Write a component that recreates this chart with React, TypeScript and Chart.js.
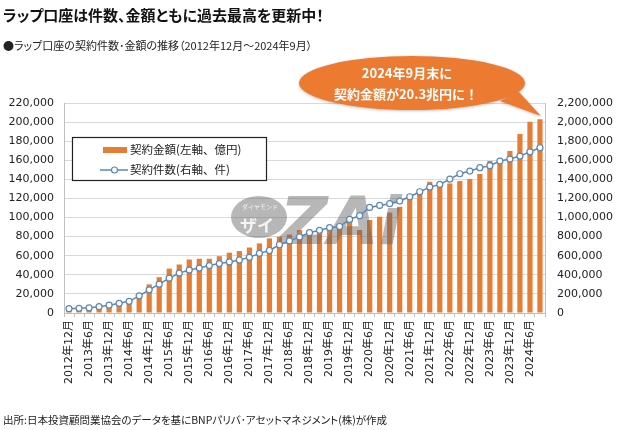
import { useEffect, useRef } from "react";
import { Chart, registerables } from "chart.js";

Chart.register(...registerables);

const categories = [
  "2012年12月",
  "2013年3月", "2013年6月", "2013年9月", "2013年12月",
  "2014年3月", "2014年6月", "2014年9月", "2014年12月",
  "2015年3月", "2015年6月", "2015年9月", "2015年12月",
  "2016年3月", "2016年6月", "2016年9月", "2016年12月",
  "2017年3月", "2017年6月", "2017年9月", "2017年12月",
  "2018年3月", "2018年6月", "2018年9月", "2018年12月",
  "2019年3月", "2019年6月", "2019年9月", "2019年12月",
  "2020年3月", "2020年6月", "2020年9月", "2020年12月",
  "2021年3月", "2021年6月", "2021年9月", "2021年12月",
  "2022年3月", "2022年6月", "2022年9月", "2022年12月",
  "2023年3月", "2023年6月", "2023年9月", "2023年12月",
  "2024年3月", "2024年6月", "2024年9月",
];

// 契約金額 (億円, 左軸)
const contractAmount = [
  2500,
  3000, 3300, 4500, 6500,
  9000, 13500, 19500, 30000,
  37500, 46500, 50800, 56000,
  56800, 56800, 59500, 63200,
  64900, 68600, 72900, 78200,
  79900, 82200, 86900, 85600,
  86500, 89700, 89400, 95600,
  86900, 97400, 100900, 105200,
  111300, 119000, 126000, 137500,
  132300, 135600, 138400, 140300,
  145500, 159200, 156500, 169600,
  187400, 200300, 203000,
];

// 契約件数 (件, 右軸)
const contractCount = [
  45000,
  49000, 54000, 66000, 82000,
  101000, 122000, 180000, 243000,
  302000, 365000, 418000, 450000,
  471000, 497000, 518000, 535000,
  555000, 583000, 625000, 655000,
  715000, 755000, 797000, 841000,
  866000, 894000, 906000, 980000,
  1020000, 1106000, 1127000, 1145000,
  1173000, 1218000, 1270000, 1319000,
  1347000, 1403000, 1459000, 1487000,
  1522000, 1543000, 1592000, 1613000,
  1644000, 1689000, 1731000,
];

const leftTicks = { min: 0, max: 220000, step: 20000 };
const rightTicks = { min: 0, max: 2200000, step: 200000 };

const legendLabels = ["契約金額(左軸、億円)", "契約件数(右軸、件)"];
const bubbleLines = ["2024年9月末に", "契約金額が20.3兆円に！"];

const BAR_COLOR = "#E67D34";
const LINE_COLOR = "#5B87B3";
const JP = '"Noto Sans CJK JP", "Noto Sans", sans-serif';
const NUM = '"DejaVu Sans", "Noto Sans CJK JP", sans-serif';

function drawWatermark(ctx: CanvasRenderingContext2D) {
  ctx.save();
  ctx.fillStyle = "rgba(95,95,95,0.45)";
  ctx.beginPath();
  ctx.ellipse(259, 217, 28, 21, 0, 0, Math.PI * 2);
  ctx.fill();
  ctx.font = 'bold italic 66px "DejaVu Sans", sans-serif';
  ctx.textBaseline = "alphabetic";
  ctx.textAlign = "left";
  ctx.fillText("ZAi", 280, 244);
  ctx.fillStyle = "rgba(255,255,255,0.85)";
  ctx.textAlign = "center";
  ctx.textBaseline = "middle";
  ctx.font = `6px ${JP}`;
  ctx.fillText("ダイヤモンド", 260, 207);
  ctx.font = `bold 17px ${JP}`;
  ctx.fillText("ザイ", 257, 226);
  ctx.restore();
}

function drawLegend(ctx: CanvasRenderingContext2D) {
  ctx.save();
  ctx.fillStyle = "#ffffff";
  ctx.fillRect(72, 137, 194, 43);
  ctx.strokeStyle = "#222222";
  ctx.lineWidth = 1.2;
  ctx.strokeRect(72.5, 137.5, 194, 43);
  ctx.fillStyle = BAR_COLOR;
  ctx.fillRect(103, 147, 24, 6);
  ctx.strokeStyle = LINE_COLOR;
  ctx.lineWidth = 1.5;
  ctx.beginPath();
  ctx.moveTo(100, 170);
  ctx.lineTo(128, 170);
  ctx.stroke();
  ctx.beginPath();
  ctx.arc(114.5, 170, 3, 0, Math.PI * 2);
  ctx.fillStyle = "#ffffff";
  ctx.fill();
  ctx.lineWidth = 1.2;
  ctx.stroke();
  ctx.fillStyle = "#222222";
  ctx.font = `11.5px ${JP}`;
  ctx.textAlign = "left";
  ctx.textBaseline = "middle";
  ctx.fillText(legendLabels[0], 130, 150);
  ctx.fillText(legendLabels[1], 130, 170);
  ctx.restore();
}

function drawBubble(ctx: CanvasRenderingContext2D) {
  ctx.save();
  ctx.shadowColor = "rgba(0,0,0,0.25)";
  ctx.shadowBlur = 3;
  ctx.shadowOffsetY = 1;
  ctx.fillStyle = "#EC7A31";
  ctx.beginPath();
  ctx.ellipse(412, 83, 113, 27, 0, 0, Math.PI * 2);
  ctx.moveTo(500, 101);
  ctx.lineTo(541, 116);
  ctx.lineTo(519, 92);
  ctx.closePath();
  ctx.fill();
  ctx.shadowColor = "transparent";
  ctx.fillStyle = "#ffffff";
  ctx.font = `bold 13px ${JP}`;
  ctx.textAlign = "center";
  ctx.textBaseline = "middle";
  ctx.fillText(bubbleLines[0], 407, 73);
  ctx.fillText(bubbleLines[1], 406, 94);
  ctx.restore();
}

const overlayPlugin = {
  id: "overlay",
  afterDatasetDraw(chart: any, args: any) {
    if (args.index === 0) drawWatermark(chart.ctx);
  },
  afterDraw(chart: any) {
    drawLegend(chart.ctx);
    drawBubble(chart.ctx);
  },
};

export default function App() {
  const ref = useRef<HTMLCanvasElement | null>(null);

  useEffect(() => {
    if (!ref.current) return;
    const chart = new Chart(ref.current, {
      type: "bar",
      data: {
        labels: categories,
        datasets: [
          {
            type: "bar",
            label: legendLabels[0],
            data: contractAmount,
            backgroundColor: BAR_COLOR,
            barPercentage: 0.52,
            categoryPercentage: 1,
            yAxisID: "y",
            order: 1,
          },
          {
            type: "line",
            label: legendLabels[1],
            data: contractCount,
            borderColor: LINE_COLOR,
            borderWidth: 1.5,
            pointRadius: 3,
            pointBorderWidth: 1.2,
            pointBackgroundColor: "#ffffff",
            pointBorderColor: LINE_COLOR,
            tension: 0,
            yAxisID: "y1",
            order: 0,
          },
        ] as any,
      },
      options: {
        animation: false,
        responsive: false,
        layout: { padding: { top: 103, left: 0, right: 0, bottom: 0 } },
        plugins: {
          legend: { display: false },
          title: { display: false },
          tooltip: { enabled: false },
        },
        scales: {
          x: {
            grid: {
              offset: true,
              drawOnChartArea: false,
              drawTicks: true,
              tickLength: 4,
              color: "#bfbfbf",
            },
            border: { color: "#bfbfbf" },
            ticks: {
              autoSkip: false,
              maxRotation: 90,
              minRotation: 90,
              padding: 3,
              color: "#222222",
              font: { family: NUM, size: 11 },
              callback: (_v: any, i: number) => (i % 2 === 0 ? categories[i] : ""),
            },
            afterFit: (s: any) => {
              s.height = 117;
            },
          },
          y: {
            position: "left",
            min: leftTicks.min,
            max: leftTicks.max,
            grid: { color: "#d9d9d9", drawTicks: false },
            border: { color: "#bfbfbf" },
            ticks: {
              stepSize: leftTicks.step,
              padding: 10,
              color: "#222222",
              font: { family: NUM, size: 11 },
              callback: (v: any) => Number(v).toLocaleString("en-US"),
            },
            afterFit: (s: any) => {
              s.width = 64;
            },
          },
          y1: {
            position: "right",
            min: rightTicks.min,
            max: rightTicks.max,
            grid: { drawOnChartArea: false, drawTicks: false },
            border: { color: "#bfbfbf" },
            ticks: {
              stepSize: rightTicks.step,
              padding: 12,
              color: "#222222",
              font: { family: NUM, size: 11 },
              callback: (v: any) => Number(v).toLocaleString("en-US"),
            },
            afterFit: (s: any) => {
              s.width = 75;
            },
          },
        },
      } as any,
      plugins: [overlayPlugin],
    });
    return () => chart.destroy();
  }, []);

  const textBase: any = {
    position: "absolute",
    left: 3,
    fontFamily: JP,
    fontFeatureSettings: '"palt"',
    whiteSpace: "nowrap",
    margin: 0,
  };

  return (
    <div
      style={{
        position: "absolute",
        left: 0,
        top: 0,
        width: 620,
        height: 430,
        background: "#ffffff",
        overflow: "hidden",
      }}
    >
      <canvas
        ref={ref}
        width={620}
        height={430}
        style={{ position: "absolute", left: 0, top: 0, width: 620, height: 430 }}
      />
      <div
        style={{
          ...textBase,
          top: 5,
          fontSize: 15,
          lineHeight: "20px",
          fontWeight: 700,
          color: "#111111",
        }}
      >
        ラップ口座は件数、金額ともに過去最高を更新中！
      </div>
      <div
        style={{
          ...textBase,
          top: 37,
          fontSize: 11,
          lineHeight: "16px",
          color: "#222222",
        }}
      >
        ●ラップ口座の契約件数･金額の推移（2012年12月～2024年9月）
      </div>
      <div
        style={{
          ...textBase,
          top: 412,
          fontSize: 10.5,
          lineHeight: "16px",
          color: "#222222",
        }}
      >
        出所:日本投資顧問業協会のデータを基にBNPパリバ･アセットマネジメント(株)が作成
      </div>
    </div>
  );
}
